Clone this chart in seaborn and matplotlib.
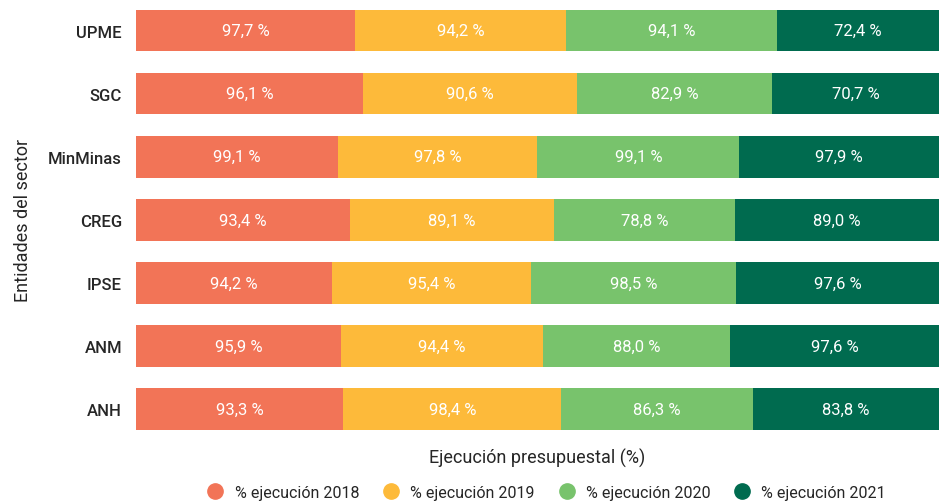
import seaborn as sns
import matplotlib.pyplot as plt
from matplotlib.lines import Line2D
import pandas as pd
import numpy as np

# --- Data ---
entidades = ["UPME", "SGC", "MinMinas", "CREG", "IPSE", "ANM", "ANH"]
ejec_2018 = [97.7, 96.1, 99.1, 93.4, 94.2, 95.9, 93.3]
ejec_2019 = [94.2, 90.6, 97.8, 89.1, 95.4, 94.4, 98.4]
ejec_2020 = [94.1, 82.9, 99.1, 78.8, 98.5, 88.0, 86.3]
ejec_2021 = [72.4, 70.7, 97.9, 89.0, 97.6, 97.6, 83.8]
series = ["% ejecución 2018", "% ejecución 2019", "% ejecución 2020", "% ejecución 2021"]
colores = ["#F27457", "#FDBA3A", "#78C36C", "#006B4F"]

df = pd.DataFrame({
    "Entidad": entidades,
    series[0]: ejec_2018,
    series[1]: ejec_2019,
    series[2]: ejec_2020,
    series[3]: ejec_2021,
})

vals = df[series].to_numpy()
share = vals / vals.sum(axis=1, keepdims=True) * 100
cum = np.cumsum(share, axis=1)

# --- Styling ---
sns.set_style("white")
plt.rcParams["font.family"] = ["Roboto", "DejaVu Sans"]

fig = plt.figure(figsize=(9.39, 5.02), dpi=100)
ax = fig.add_axes([0.1448, 0.12, 0.8552, 0.88])

# overlapping cumulative bars, drawn from the longest down
for i in range(len(series) - 1, -1, -1):
    sns.barplot(x=cum[:, i], y=df["Entidad"], orient="h", color=colores[i],
                width=0.66, saturation=1, ax=ax, edgecolor="none")

# segment labels
for r in range(len(entidades)):
    for i in range(len(series)):
        left = cum[r, i] - share[r, i]
        txt = f"{vals[r, i]:.1f}".replace(".", ",") + " %"
        ax.text(left + share[r, i] / 2, r, txt, ha="center", va="center",
                color="white", fontsize=12)

ax.set_xlim(0, 100)
ax.set_ylim(6.5, -0.5)
ax.set_xticks([])
ax.tick_params(axis="y", length=0, labelsize=12, pad=10)
for lbl in ax.get_yticklabels():
    lbl.set_fontweight("medium")
ax.set_ylabel("Entidades del sector", fontsize=13, labelpad=12)
ax.set_xlabel("Ejecución presupuestal (%)", fontsize=13, labelpad=5)
sns.despine(ax=ax, left=True, bottom=True)

handles = [Line2D([], [], marker="o", linestyle="none", markersize=11,
                  markerfacecolor=c, markeredgecolor=c) for c in colores]
fig.legend(handles, series, loc="center", bbox_to_anchor=(0.578, 0.017),
           ncol=4, frameon=False, fontsize=11.5, handletextpad=0.2,
           columnspacing=1.0)

plt.savefig("out.png", dpi=100)
plt.close()
